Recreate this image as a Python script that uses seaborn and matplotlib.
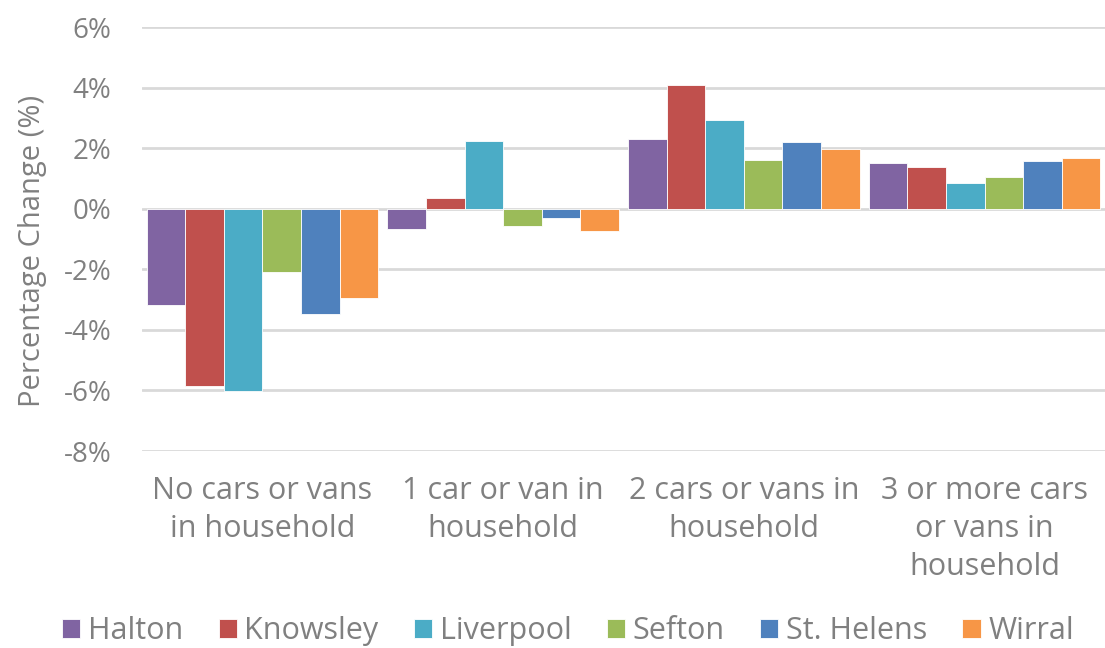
import pandas as pd
import seaborn as sns
import matplotlib.pyplot as plt
from matplotlib.ticker import FuncFormatter

categories = ["No cars or vans\nin household", "1 car or van in\nhousehold",
              "2 cars or vans in\nhousehold", "3 or more cars\nor vans in\nhousehold"]
areas = ["Halton", "Knowsley", "Liverpool", "Sefton", "St. Helens", "Wirral"]

halton = [-3.17, -0.66, 2.31, 1.51]
knowsley = [-5.84, 0.35, 4.10, 1.39]
liverpool = [-6.03, 2.24, 2.93, 0.84]
sefton = [-2.10, -0.58, 1.61, 1.06]
st_helens = [-3.48, -0.29, 2.20, 1.57]
wirral = [-2.93, -0.74, 1.99, 1.67]

colors = ["#8064A2", "#C0504D", "#4BACC6", "#9BBB59", "#4F81BD", "#F79646"]

series = [halton, knowsley, liverpool, sefton, st_helens, wirral]
rows = []
for area, vals in zip(areas, series):
    for cat, v in zip(categories, vals):
        rows.append({"category": cat, "area": area, "change": v})
df = pd.DataFrame(rows)

sns.set_style("white")
plt.rcParams['font.family'] = ['Open Sans', 'DejaVu Sans']
grey = "#808080"

fig = plt.figure(figsize=(11.05, 6.48), dpi=100)
ax = fig.add_axes([0.1285, 0.304, 0.8715, 0.654])

sns.barplot(data=df, x="category", y="change", hue="area", order=categories,
            hue_order=areas, palette=colors, saturation=1, width=0.962, gap=0,
            edgecolor="white", linewidth=0.6, ax=ax, zorder=3)

ax.set_ylim(-8, 6)
ax.set_xlim(-0.5, 3.5)
ax.set_yticks(range(-8, 7, 2))
ax.yaxis.set_major_formatter(FuncFormatter(lambda v, p: f"{v:.0f}%"))
ax.grid(axis="y", color="#d9d9d9", linewidth=2, zorder=0)
ax.set_axisbelow(True)
for s in ax.spines.values():
    s.set_visible(False)
ax.tick_params(axis="both", length=0, colors=grey)
ax.tick_params(axis="y", pad=22, labelsize=20)
ax.tick_params(axis="x", pad=18, labelsize=22)
for lbl in ax.get_xticklabels():
    lbl.set_linespacing(1.34)
    lbl.set_verticalalignment("top")
ax.set_xlabel("")
ax.set_ylabel("Percentage Change (%)", color=grey, fontsize=21)
ax.yaxis.set_label_coords(-0.099, 0.472)

handles, labels = ax.get_legend_handles_labels()
ax.get_legend().remove()
fig.legend(handles, labels, loc="center", bbox_to_anchor=(0.514, 0.026), ncol=6,
           frameon=False, fontsize=22, handlelength=0.6, handleheight=0.6,
           handletextpad=0.25, columnspacing=1.15, labelcolor=grey)

fig.savefig("out.png", dpi=100)
